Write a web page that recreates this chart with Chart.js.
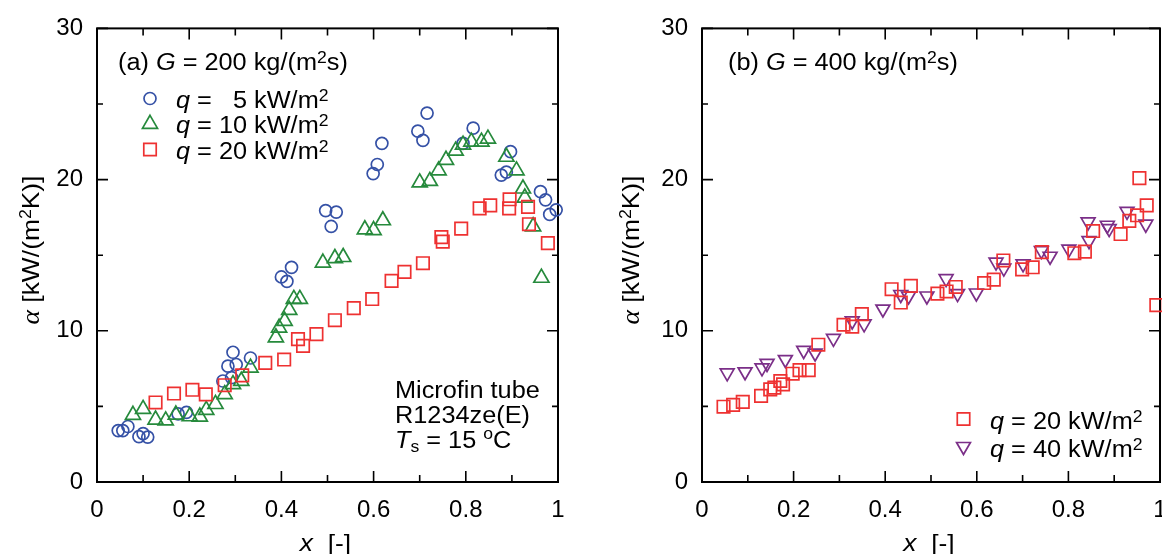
<!DOCTYPE html>
<html lang="ja">
<head>
<meta charset="UTF-8">
<title>Heat transfer coefficient vs vapor quality</title>
<script src="https://cdn.jsdelivr.net/npm/chart.js"></script>
<style>
  html, body { margin: 0; padding: 0; background: #fff; }
  body { width: 1162px; height: 554px; overflow: hidden; position: relative; }
  .panel { position: absolute; top: 0; height: 554px; }
  #panelA { left: 0; width: 581px; }
  #panelB { left: 581px; width: 600px; }
</style>
</head>
<body>

<div class="panel" id="panelA"><canvas id="chartA" width="581" height="554"></canvas></div>
<div class="panel" id="panelB"><canvas id="chartB" width="600" height="554"></canvas></div>

<script>
  // axis ticks
  const xTicks = [0, 0.2, 0.4, 0.6, 0.8, 1];
  const xMinorTicks = [0.1, 0.3, 0.5, 0.7, 0.9];
  const yTicks = [0, 10, 20, 30];
  const yMinorTicks = [5, 15, 25];

  // (a) G = 200 kg/(m2s)  -- [x, alpha]
  const a_q5 = [[0.046, 3.4], [0.056, 3.4], [0.067, 3.67], [0.091, 3.0], [0.1, 3.2], [0.11, 2.97],
    [0.176, 4.5], [0.194, 4.6], [0.273, 6.68], [0.284, 7.66], [0.292, 6.9], [0.295, 8.58], [0.302, 7.77],
    [0.333, 8.2], [0.4, 13.56], [0.412, 13.27], [0.422, 14.2], [0.496, 17.95], [0.508, 16.9], [0.519, 17.85],
    [0.599, 20.4], [0.608, 21.0], [0.618, 22.4], [0.696, 23.2], [0.707, 22.6], [0.716, 24.4], [0.794, 22.4],
    [0.816, 23.4], [0.877, 20.3], [0.888, 20.5], [0.897, 21.85], [0.962, 19.2], [0.973, 18.66], [0.982, 17.7],
    [0.996, 18.0]];
  const a_q10 = [[0.078, 4.43], [0.1, 4.82], [0.127, 4.12], [0.149, 4.06], [0.171, 4.45], [0.201, 4.34],
    [0.223, 4.32], [0.237, 4.76], [0.257, 5.15], [0.277, 5.8], [0.295, 6.46], [0.313, 6.68], [0.333, 7.55],
    [0.388, 9.56], [0.395, 10.2], [0.407, 10.65], [0.417, 11.37], [0.427, 12.1], [0.44, 12.1], [0.49, 14.5],
    [0.516, 14.8], [0.534, 14.87], [0.581, 16.7], [0.6, 16.65], [0.62, 17.3], [0.7, 19.8], [0.722, 19.9],
    [0.741, 20.6], [0.757, 21.3], [0.778, 21.9], [0.794, 22.3], [0.812, 22.5], [0.834, 22.5], [0.848, 22.7],
    [0.888, 21.5], [0.91, 20.6], [0.924, 19.4], [0.928, 18.8], [0.946, 16.9], [0.964, 13.5]];
  const a_q20 = [[0.127, 5.26], [0.167, 5.85], [0.207, 6.1], [0.236, 5.8], [0.277, 6.4], [0.315, 7.05],
    [0.365, 7.88], [0.406, 8.1], [0.436, 9.45], [0.447, 9.0], [0.476, 9.78], [0.516, 10.7], [0.557, 11.5],
    [0.597, 12.1], [0.639, 13.3], [0.667, 13.9], [0.707, 14.47], [0.747, 16.2], [0.75, 15.9], [0.79, 16.76],
    [0.83, 18.1], [0.853, 18.3], [0.894, 18.1], [0.895, 18.7], [0.935, 18.2], [0.937, 17.05], [0.978, 15.8]];

  // (b) G = 400 kg/(m2s)
  const b_q20 = [[0.047, 4.98], [0.068, 5.1], [0.089, 5.3], [0.129, 5.7], [0.149, 6.13], [0.158, 6.24],
    [0.171, 6.68], [0.177, 6.46], [0.198, 7.16], [0.213, 7.4], [0.233, 7.4], [0.254, 9.08], [0.309, 10.4],
    [0.328, 10.28], [0.349, 11.1], [0.414, 12.75], [0.434, 11.87], [0.456, 12.97], [0.514, 12.46], [0.534, 12.6],
    [0.554, 12.9], [0.616, 13.16], [0.637, 13.38], [0.658, 14.65], [0.699, 14.06], [0.722, 14.2], [0.742, 15.2],
    [0.813, 15.13], [0.836, 15.24], [0.854, 16.6], [0.914, 16.4], [0.933, 17.27], [0.95, 17.64], [0.955, 20.1],
    [0.971, 18.3], [0.992, 11.7]];
  const b_q40 = [[0.055, 7.22], [0.094, 7.29], [0.131, 7.55], [0.142, 7.84], [0.182, 8.1], [0.222, 8.7],
    [0.247, 8.53], [0.287, 9.5], [0.328, 10.65], [0.354, 10.46], [0.395, 11.44], [0.434, 12.4], [0.451, 12.3],
    [0.491, 12.3], [0.533, 13.45], [0.558, 12.46], [0.599, 12.5], [0.642, 14.54], [0.659, 14.15], [0.701, 14.43],
    [0.741, 15.3], [0.76, 14.93], [0.801, 15.4], [0.843, 17.2], [0.845, 15.96], [0.885, 16.98], [0.889, 16.76],
    [0.928, 17.9], [0.969, 17.05]];

  const SANS = '"Liberation Sans", Arial, Helvetica, sans-serif';
  const SERIF = '"Liberation Serif", "Times New Roman", serif';
  const STRETCH = 1.1;

  const BLUE = '#3551a6';
  const GREEN = '#268a3c';
  const RED = '#ee3131';
  const PURPLE = '#7b2f88';

  const markers = {
    circle:  { pointStyle: 'circle',   radius: 6,   rotation: 0 },
    tri:     { pointStyle: 'triangle', radius: 8.7, rotation: 0 },
    square:  { pointStyle: 'rect',     radius: 8.8, rotation: 0 },
    triDown: { pointStyle: 'triangle', radius: 8,   rotation: 180 }
  };

  function series(label, pairs, color, m) {
    return {
      label: label,
      data: pairs.map(p => ({ x: p[0], y: p[1] })),
      pointStyle: markers[m].pointStyle,
      pointRadius: markers[m].radius,
      rotation: markers[m].rotation,
      pointBorderWidth: 1.7,
      borderColor: color,
      pointBorderColor: color,
      pointBackgroundColor: 'rgba(0,0,0,0)',
      showLine: false,
      clip: false
    };
  }

  // text helpers
  function fontOf(r) {
    return (r.it ? 'italic ' : '') + (r.size || 23) + 'px ' + (r.serif ? SERIF : SANS);
  }
  function runsWidth(ctx, runs) {
    let w = 0;
    for (const r of runs) { ctx.font = fontOf(r); w += ctx.measureText(r.t).width; }
    return w * STRETCH;
  }
  function drawRuns(ctx, x, y, runs) {
    ctx.save();
    ctx.translate(x, y);
    ctx.scale(STRETCH, 1);
    ctx.fillStyle = '#000';
    ctx.textAlign = 'left';
    ctx.textBaseline = 'alphabetic';
    let cx = 0;
    for (const r of runs) {
      ctx.font = fontOf(r);
      if (!r.hide) ctx.fillText(r.t, cx, r.dy || 0);
      cx += ctx.measureText(r.t).width;
    }
    ctx.restore();
  }
  const sup = t => ({ t: t, size: 16, dy: -7 });

  function drawMarker(ctx, m, x, y, color) {
    const s = markers[m];
    const r = s.radius;
    ctx.save();
    ctx.strokeStyle = color;
    ctx.lineWidth = 1.7;
    ctx.beginPath();
    if (s.pointStyle === 'circle') {
      ctx.arc(x, y, r, 0, Math.PI * 2);
    } else if (s.pointStyle === 'rect') {
      const h = r * Math.SQRT1_2;
      ctx.rect(x - h, y - h, 2 * h, 2 * h);
    } else {
      let a = s.rotation * Math.PI / 180;
      ctx.moveTo(x + Math.sin(a) * r, y - Math.cos(a) * r);
      a += Math.PI * 2 / 3;
      ctx.lineTo(x + Math.sin(a) * r, y - Math.cos(a) * r);
      a += Math.PI * 2 / 3;
      ctx.lineTo(x + Math.sin(a) * r, y - Math.cos(a) * r);
      ctx.closePath();
    }
    ctx.stroke();
    ctx.restore();
  }

  // frame with inward ticks on all four sides
  const framePlugin = {
    id: 'frame',
    beforeDatasetsDraw(chart) {
      const { ctx, chartArea: a, scales: { x, y } } = chart;
      ctx.save();
      ctx.strokeStyle = '#000';
      ctx.lineWidth = 1.6;
      ctx.beginPath();
      const vt = (vals, len) => vals.forEach(v => {
        const px = x.getPixelForValue(v);
        ctx.moveTo(px, a.bottom); ctx.lineTo(px, a.bottom - len);
        ctx.moveTo(px, a.top); ctx.lineTo(px, a.top + len);
      });
      const ht = (vals, len) => vals.forEach(v => {
        const py = y.getPixelForValue(v);
        ctx.moveTo(a.left, py); ctx.lineTo(a.left + len, py);
        ctx.moveTo(a.right, py); ctx.lineTo(a.right - len, py);
      });
      vt(xTicks, 11); vt(xMinorTicks, 7);
      ht(yTicks, 11); ht(yMinorTicks, 6);
      ctx.stroke();
      ctx.lineWidth = 2;
      ctx.strokeRect(a.left, a.top, a.right - a.left, a.bottom - a.top);
      ctx.restore();
    }
  };

  function axisTitles(chart, yTitleX) {
    const { ctx, chartArea: a } = chart;
    const xr = [{ t: 'x', it: true, size: 24 }, { t: '  [-]', size: 24 }];
    const xw = runsWidth(ctx, xr);
    drawRuns(ctx, (a.left + a.right) / 2 - xw / 2 - 2, 551, xr);

    const yr = [{ t: 'α', it: true, serif: true, size: 25 }, { t: ' [kW/(m', size: 24 },
      { t: '2', size: 16, dy: -8 }, { t: 'K)]', size: 24 }];
    const yw = runsWidth(ctx, yr);
    ctx.save();
    ctx.translate(yTitleX, 250);
    ctx.rotate(-Math.PI / 2);
    drawRuns(ctx, -yw / 2, 0, yr);
    ctx.restore();
  }

  const textA = {
    id: 'textA',
    afterDraw(chart) {
      const ctx = chart.ctx;
      axisTitles(chart, 39);
      drawRuns(ctx, 118, 70, [{ t: '(a) ' }, { t: 'G', it: true }, { t: ' = 200 kg/(m' }, sup('2'), { t: 's)' }]);
      const rows = [
        { m: 'circle', c: BLUE,  runs: [{ t: 'q', it: true }, { t: ' = ' }, { t: '1', hide: true }, { t: '5 kW/m' }, sup('2')] },
        { m: 'tri',    c: GREEN, runs: [{ t: 'q', it: true }, { t: ' = 10 kW/m' }, sup('2')] },
        { m: 'square', c: RED,   runs: [{ t: 'q', it: true }, { t: ' = 20 kW/m' }, sup('2')] }
      ];
      const rowY = [98.5, 124, 149.5];
      rows.forEach((r, i) => {
        drawMarker(ctx, r.m, 150, rowY[i], r.c);
        drawRuns(ctx, 176, rowY[i] + 9, r.runs);
      });
      drawRuns(ctx, 395, 398, [{ t: 'Microfin tube' }]);
      drawRuns(ctx, 395, 423, [{ t: 'R1234ze(E)' }]);
      drawRuns(ctx, 395, 448, [{ t: 'T', it: true }, { t: 's', size: 16, dy: 4 }, { t: ' = 15 ' },
        { t: 'o', size: 16, dy: -9 }, { t: 'C' }]);
    }
  };

  const textB = {
    id: 'textB',
    afterDraw(chart) {
      const ctx = chart.ctx;
      axisTitles(chart, 58);
      drawRuns(ctx, 147, 70, [{ t: '(b) ' }, { t: 'G', it: true }, { t: ' = 400 kg/(m' }, sup('2'), { t: 's)' }]);
      const rows = [
        { m: 'square',  c: RED,    runs: [{ t: 'q', it: true }, { t: ' = 20 kW/m' }, sup('2')] },
        { m: 'triDown', c: PURPLE, runs: [{ t: 'q', it: true }, { t: ' = 40 kW/m' }, sup('2')] }
      ];
      const rowY = [419, 446.5];
      rows.forEach((r, i) => {
        drawMarker(ctx, r.m, 382.5, rowY[i], r.c);
        drawRuns(ctx, 409, rowY[i] + 10, r.runs);
      });
    }
  };

  function panelOptions(yAxisWidth, padRight) {
    const tickFont = { family: SANS, size: 24 };
    return {
      responsive: false,
      animation: false,
      layout: { padding: { left: 0, right: padRight, top: 24, bottom: 0 } },
      plugins: { legend: { display: false }, tooltip: { enabled: false } },
      scales: {
        x: {
          type: 'linear', min: 0, max: 1,
          grid: { display: false, drawTicks: false },
          border: { display: false },
          afterBuildTicks: s => { s.ticks = xTicks.map(v => ({ value: v })); },
          afterFit: s => { s.height = 72; },
          ticks: {
            padding: 14, color: '#000', font: tickFont, maxRotation: 0, autoSkip: false,
            callback: v => String(Math.round(v * 10) / 10)
          }
        },
        y: {
          type: 'linear', min: 0, max: 30,
          grid: { display: false, drawTicks: false },
          border: { display: false },
          afterBuildTicks: s => { s.ticks = yTicks.map(v => ({ value: v })); },
          afterFit: s => { s.width = yAxisWidth; },
          ticks: { padding: 14, color: '#000', font: tickFont, autoSkip: false }
        }
      }
    };
  }

  new Chart(document.getElementById('chartA'), {
    type: 'scatter',
    data: {
      datasets: [
        series('q = 20 kW/m2', a_q20, RED, 'square'),
        series('q = 10 kW/m2', a_q10, GREEN, 'tri'),
        series('q = 5 kW/m2', a_q5, BLUE, 'circle')
      ]
    },
    options: panelOptions(97, 23),
    plugins: [framePlugin, textA]
  });

  new Chart(document.getElementById('chartB'), {
    type: 'scatter',
    data: {
      datasets: [
        series('q = 20 kW/m2', b_q20, RED, 'square'),
        series('q = 40 kW/m2', b_q40, PURPLE, 'triDown')
      ]
    },
    options: panelOptions(121, 21),
    plugins: [framePlugin, textB]
  });
</script>

</body>
</html>
